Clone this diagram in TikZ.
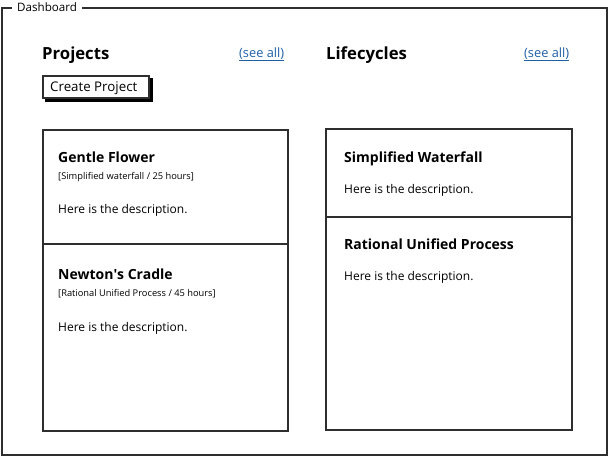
\documentclass[tikz,border=0pt]{standalone}
\usepackage{fontspec}
\setmainfont{Open Sans}
\usetikzlibrary{positioning,shadows}
\definecolor{sketch}{HTML}{2E2E2E}
\definecolor{linkblue}{HTML}{1F5FA6}
\begin{document}
\begin{tikzpicture}[x=1pt,y=-1pt]
                    \tikzstyle{every node}=[inner sep=0,anchor=base west,text=black]
                    \tikzstyle{heading}=[font=\fontsize{16.7}{19}\selectfont\bfseries]
                    \tikzstyle{itemtitle}=[font=\fontsize{14}{16}\selectfont\bfseries]
                    \tikzstyle{itemsub}=[font=\fontsize{9.3}{11}\selectfont]
                    \tikzstyle{itemdesc}=[font=\fontsize{12}{14}\selectfont]
                    \tikzstyle{seeall}=[font=\fontsize{12.8}{14}\selectfont,text=linkblue]
                    \tikzstyle{panel}=[draw=sketch,line width=1.6,rectangle,anchor=north west,minimum width=245,minimum height=301]
                    \useasboundingbox (0,0) rectangle (610,459);
                    % outer frame
                    \node[font=\fontsize{11.6}{13}\selectfont] (frametitle) at (17,11) {Dashboard};
                    \draw[sketch,line width=1.6] ([xshift=-5]frametitle.west |- 0,8) -- (2,8) -- (2,455) -- (607,455) -- (607,8) -- ([xshift=5]frametitle.east |- 0,8);
                    {
                        \node[heading] (projects) at (42,59) {Projects};
                        \node[seeall] (projall) at (239,57) {\underline{(see all)}};
                        \node[heading] (lifecycles) at (326,59) {Lifecycles};
                        \node[seeall] (lifeall) at (524,57) {\underline{(see all)}};
                    }
                    \node[draw=sketch,line width=1.6,fill=white,anchor=north west,minimum width=106,minimum height=22,
                          copy shadow={shadow xshift=3,shadow yshift=3,fill=black,draw=black}] (createbtn) at (42,75) {};
                    \node[font=\fontsize{13.3}{15}\selectfont] (createlbl) at (50,91) {Create Project};
                    % projects panel
                    \node[panel] (projpanel) at (42,129) {};
                    \draw[sketch,line width=1.6] (projpanel.west |- 0,244) -- (projpanel.east |- 0,244);
                    \node[itemtitle] (gentle) at (58,162) {Gentle Flower};
                    \node[itemsub] (gentlesub) at (58,179) {[Simplified waterfall / 25 hours]};
                    \node[itemdesc] (gentledesc) at (58,213) {Here is the description.};
                    \node[itemtitle] (newton) at (58,279) {Newton\textquotesingle s Cradle};
                    \node[itemsub] (newtonsub) at (58,296) {[Rational Unified Process / 45 hours]};
                    \node[itemdesc] (newtondesc) at (58,331) {Here is the description.};
                    % lifecycles panel
                    \node[panel,minimum width=246] (lifepanel) at (325,128) {};
                    \draw[sketch,line width=1.6] (lifepanel.west |- 0,217) -- (lifepanel.east |- 0,217);
                    \node[itemtitle] (waterfall) at (344,162) {Simplified Waterfall};
                    \node[itemdesc] (waterfalldesc) at (344,193) {Here is the description.};
                    \node[itemtitle] (rup) at (344,249) {Rational Unified Process};
                    \node[itemdesc] (rupdesc) at (344,280) {Here is the description.};
                \end{tikzpicture}
\end{document}
